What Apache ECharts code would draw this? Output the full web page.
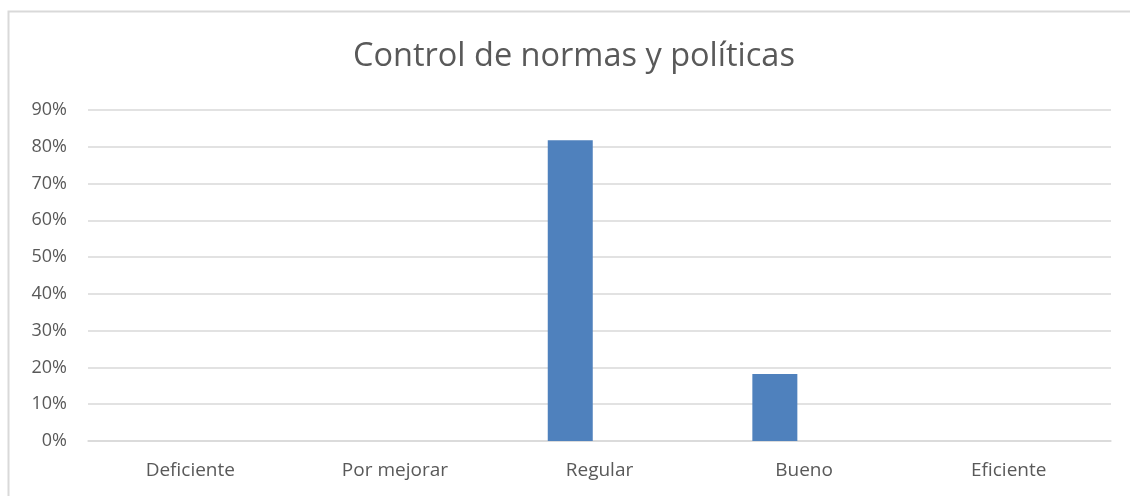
<!DOCTYPE html>
<html>
<head>
<meta charset="utf-8">
<script src="https://cdn.jsdelivr.net/npm/echarts@6/dist/echarts.min.js"></script>
<style>
  html, body { margin: 0; padding: 0; background: #fff; }
  #chart { width: 1130px; height: 496px; }
</style>
</head>
<body>
<div id="chart"></div>
<script>
var chart = echarts.init(document.getElementById('chart'));

var titulo = 'Control de normas y políticas';
var categorias = ['Deficiente', 'Por mejorar', 'Regular', 'Bueno', 'Eficiente'];
var porcentajes = [0, 0, 81.8, 18.2, 0];
// second (empty) series of the original chart, it only shifts the bars left
var vacia = ['-', '-', '-', '-', '-'];
var ticksY = [0, 10, 20, 30, 40, 50, 60, 70, 80, 90];

var fuente = '"Open Sans", "Noto Sans", sans-serif';

option = {
    animation: false,
    backgroundColor: '#fff',
    title: {
        text: titulo,
        left: 348,
        top: 35,
        textStyle: {
            color: '#595959',
            fontFamily: fuente,
            fontWeight: 'normal',
            fontSize: 32.5
        }
    },
    graphic: [{
        type: 'rect',
        shape: { x: 8.5, y: 11.5, width: 1130, height: 500 },
        style: { fill: 'none', stroke: '#d9d9d9', lineWidth: 2 },
        silent: true
    }],
    grid: {
        left: 88,
        right: 19,
        top: 110,
        bottom: 55
    },
    xAxis: {
        type: 'category',
        data: categorias,
        axisLine: { lineStyle: { color: '#d9d9d9', width: 1.5 } },
        axisTick: { show: false },
        axisLabel: {
            color: '#595959',
            fontFamily: fuente,
            fontSize: 19,
            margin: 20
        }
    },
    yAxis: {
        type: 'value',
        min: ticksY[0],
        max: ticksY[ticksY.length - 1],
        interval: 10,
        axisLine: { show: false },
        axisTick: { show: false },
        splitLine: { lineStyle: { color: '#d9d9d9', width: 1.5 } },
        axisLabel: {
            color: '#595959',
            fontFamily: fuente,
            fontSize: 18,
            margin: 21,
            formatter: '{value}%'
        }
    },
    series: [{
        name: 'Porcentaje',
        type: 'bar',
        data: porcentajes,
        barWidth: 45,
        barGap: '30%',
        itemStyle: { color: '#4f81bd' }
    }, {
        name: 'Vacía',
        type: 'bar',
        data: vacia,
        barWidth: 45,
        itemStyle: { color: '#c0504d' }
    }]
};

chart.setOption(option);
</script>
</body>
</html>
